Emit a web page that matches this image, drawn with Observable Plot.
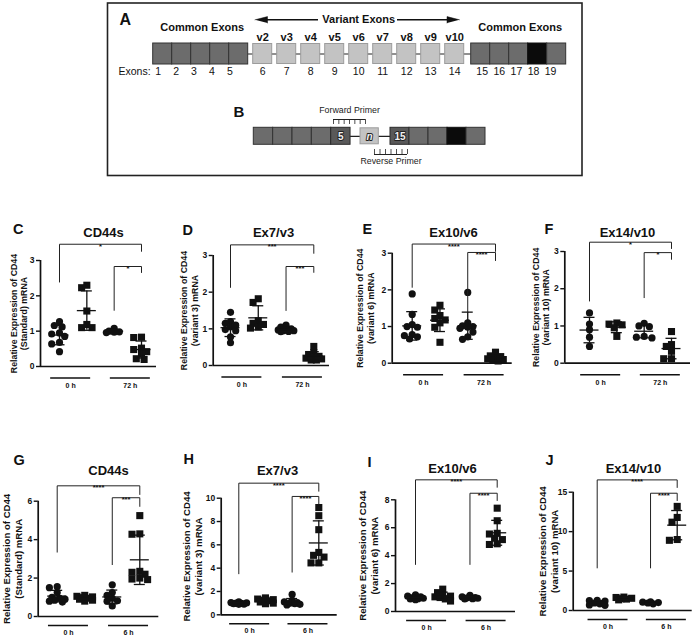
<!DOCTYPE html>
<html><head><meta charset="utf-8">
<script src="https://cdn.jsdelivr.net/npm/d3@7"></script>
<script src="https://cdn.jsdelivr.net/npm/@observablehq/plot@0.6"></script>
<style>
body{margin:0;background:#fff;}
#fig{position:relative;width:697px;height:637px;overflow:hidden;background:#fff;}
#fig > div{position:absolute;}
#fig svg{background:transparent !important;}
</style></head><body><div id="fig"></div>
<script>
// ---------- Panel A / B schematic data ----------
const commonLeftExons = ["1","2","3","4","5"];
const variantExons = ["6","7","8","9","10","11","12","13","14"];
const variantNames = ["v2","v3","v4","v5","v6","v7","v8","v9","v10"];
const commonRightExons = ["15","16","17","18","19"];
const blackExon = "18";
const primerLabels = ["Forward Primer","Reverse Primer"];
const bLeftLabels = ["","","","","5"];
const bMiddleLabel = "n";
const bRightLabels = ["15","","","",""];

// ---------- Scatter panels data (columns: 0h ctrl, 0h treat, late ctrl, late treat) ----------
const panelLetters = ["C","D","E","F","G","H","I","J"];
const panelTitles = ["CD44s","Ex7/v3","Ex10/v6","Ex14/v10","CD44s","Ex7/v3","Ex10/v6","Ex14/v10"];
const yLabelLine1 = "Relative Expression of CD44";
const yLabelLine2 = ["(Standard) mRNA","(variant 3) mRNA","(variant 6) mRNA","(variant 10) mRNA","(Standard) mRNA","(variant 3) mRNA","(variant 6) mRNA","(variant 10) mRNA"];
const groupsTop = ["0 h","72 h"];
const groupsBottom = ["0 h","6 h"];
const ticksC = [0,1,2,3], ticksD = [0,1,2,3], ticksE = [0,1,2,3], ticksF = [0,1,2,3];
const ticksG = [0,2,4,6], ticksH = [0,2,4,6,8,10], ticksI = [0,2,4,6,8], ticksJ = [0,5,10,15];

const valuesC = [[1.27,1.16,1.12,0.95,0.92,0.85,0.68,0.64,0.42],[2.3,2.23,1.57,1.19,1.1,1.1],[1.08,1.0,0.98,0.97,0.96],[0.83,0.82,0.52,0.48,0.42,0.35,0.22,0.2]];
const valuesD = [[1.45,1.2,1.15,1.1,1.05,0.98,0.95,0.78,0.62],[1.82,1.72,1.22,1.15,1.12,1.05,1.02],[1.1,1.05,1.0,0.98,0.97,0.95,0.95,0.93,0.92],[0.52,0.35,0.3,0.25,0.22,0.2,0.18,0.15,0.15]];
const valuesE = [[1.89,1.33,1.05,1.0,0.98,0.78,0.75,0.72,0.66],[1.58,1.45,1.3,1.22,1.18,1.1,0.98,0.57],[1.93,1.1,1.02,1.0,0.98,0.95,0.85,0.72,0.65],[0.3,0.2,0.18,0.15,0.12,0.1,0.08,0.06]];
const valuesF = [[1.35,1.05,0.9,0.7,0.45],[1.08,1.05,1.03,0.95,0.72],[1.07,1.0,0.98,0.72,0.7,0.68],[0.85,0.5,0.45,0.32,0.12,0.12]];
const valuesG = [[1.55,1.5,1.25,1.0,0.95,0.9,0.85,0.8,0.75],[1.1,1.05,1.02,0.98,0.95,0.9,0.85,0.8],[1.65,1.25,1.1,0.95,0.82,0.8,0.55],[5.25,4.3,4.28,2.35,2.3,2.2,2.0,1.95,1.92]];
const valuesH = [[1.1,1.05,1.02,1.0,0.98,0.95,0.92,0.9],[1.45,1.35,1.3,1.25,1.2,1.1,1.0,0.95],[1.75,1.25,1.1,1.05,1.0,0.95,0.9,0.85],[9.2,8.5,7.3,5.35,5.1,4.95,4.45,4.45]];
const valuesI = [[1.2,1.1,1.05,1.0,0.95,0.92,0.9,0.85],[1.6,1.35,1.2,1.1,1.05,1.0,0.9,0.75],[1.15,1.05,1.0,0.98,0.95,0.92,0.9],[7.4,6.5,5.6,5.55,5.25,5.15,4.85,4.8]];
const valuesJ = [[1.3,1.25,1.2,0.95,0.85,0.7,0.65],[1.7,1.65,1.55,1.5,1.45,1.35],[1.1,1.05,1.0,0.95,0.85],[13.2,11.8,11.2,9.0,8.9]];

// significance brackets: from column, to column, top value, left-leg end, right-leg end, label
const bracketsC = [{from:0,to:3,top:3.46,left:2.39,right:3.26,label:"*"},{from:2,to:3,top:2.83,left:1.59,right:2.66,label:"*"}];
const bracketsD = [{from:0,to:3,top:3.29,left:2.13,right:3.06,label:"***"},{from:2,to:3,top:2.70,left:1.50,right:2.54,label:"***"}];
const bracketsE = [{from:0,to:3,top:3.25,left:2.07,right:3.05,label:"****"},{from:2,to:3,top:3.02,left:1.39,right:2.80,label:"****"}];
const bracketsF = [{from:0,to:3,top:3.25,left:1.67,right:3.08,label:"*"},{from:2,to:3,top:2.97,left:1.76,right:2.79,label:"*"}];
const bracketsG = [{from:0,to:3,top:6.8,left:3.35,right:6.35,label:"****"},{from:2,to:3,top:6.18,left:2.7,right:5.73,label:"***"}];
const bracketsH = [{from:0,to:3,top:11.29,left:3.52,right:10.6,label:"****"},{from:2,to:3,top:10.15,left:3.66,right:9.52,label:"****"}];
const bracketsI = [{from:0,to:3,top:9.43,left:3.37,right:8.9,label:"****"},{from:2,to:3,top:8.47,left:3.37,right:7.95,label:"****"}];
const bracketsJ = [{from:0,to:3,top:16.56,left:5.4,right:15.6,label:"****"},{from:2,to:3,top:14.87,left:5.4,right:13.94,label:"****"}];

// ---------- helpers ----------
const FONT = "Liberation Sans, Arial, Helvetica, sans-serif";
const fig = document.getElementById("fig");
function place(node, left, top) {
  const d = document.createElement("div");
  d.style.left = left + "px"; d.style.top = top + "px";
  d.appendChild(node); fig.appendChild(d);
}

// ---------- schematic ----------
function schematic() {
  const W = 697, H = 180;
  const exW = 19, aTop = 43, aBot = 64;
  const aLeft = 152.7, vStart = 252.7, vStep = 24, aRight = 470.7;
  const bTop = 127.3, bBot = 144.3, bLeft = 253.3, bW = 19.35, bMid = 360, bMidW = 18.3, bRight = 390;
  const COL = {common: "#6c6c6c", variant: "#c3c3c3", black: "#0b0b0b", dark: "#595959"};
  const SCOL = {common: "#333", variant: "#9c9c9c", black: "#111", dark: "#2a2a2a"};
  const rects = [];
  commonLeftExons.forEach((e, i) => rects.push({x1: aLeft + i*exW, x2: aLeft + (i+1)*exW, y1: aTop, y2: aBot, k: e === blackExon ? "black" : "common"}));
  variantExons.forEach((e, i) => rects.push({x1: vStart + i*vStep, x2: vStart + i*vStep + exW, y1: aTop + 0.5, y2: aBot - 0.5, k: "variant"}));
  commonRightExons.forEach((e, i) => rects.push({x1: aRight + i*exW, x2: aRight + (i+1)*exW, y1: aTop, y2: aBot, k: e === blackExon ? "black" : "common"}));
  bLeftLabels.forEach((e, i) => rects.push({x1: bLeft + i*bW, x2: bLeft + (i+1)*bW, y1: bTop, y2: bBot, k: e ? "dark" : "common"}));
  rects.push({x1: bMid, x2: bMid + bMidW, y1: bTop + 0.5, y2: bBot - 0.5, k: "variant"});
  bRightLabels.forEach((e, i) => rects.push({x1: bRight + i*exW, x2: bRight + (i+1)*exW, y1: bTop, y2: bBot, k: i === 3 ? "black" : (e ? "dark" : "common")}));

  const aMidY = (aTop + aBot)/2, bMidY = (bTop + bBot)/2;
  const connectors = [
    {x1: aLeft + 5*exW, x2: aRight, y: aMidY},
    {x1: bLeft + 5*bW, x2: bRight, y: bMidY}
  ];
  const numLabels = [];
  commonLeftExons.forEach((e, i) => numLabels.push({x: aLeft + 5 + i*17.9, t: e}));
  variantExons.forEach((e, i) => numLabels.push({x: vStart + i*vStep + exW/2, t: e}));
  commonRightExons.forEach((e, i) => numLabels.push({x: aRight + 11 + i*17.1, t: e}));
  const vLabels = variantNames.map((v, i) => ({x: vStart + i*vStep + exW/2, t: v}));
  const groupTitles = [
    {x: aLeft + 2.5*exW + 1.5, t: "Common Exons"},
    {x: aRight + 2.5*exW + 1.5, t: "Common Exons"}
  ];
  const varMid = (vStart + vStart + 8*vStep + exW)/2;
  const arrowY = 19.3;
  const arrowLines = [{x1: 262, x2: 318, y: arrowY}, {x1: 397, x2: 452, y: arrowY}];
  const heads = [
    [{x: 254.5, y: arrowY}, {x: 267, y: arrowY - 3.2}, {x: 267, y: arrowY + 3.2}],
    [{x: 459, y: arrowY}, {x: 446.5, y: arrowY - 3.2}, {x: 446.5, y: arrowY + 3.2}]
  ].flatMap((h, i) => h.map(p => ({...p, i})));
  const bInBoxPlain = [
    {x: bLeft + 4.5*bW, t: bLeftLabels[4]},
    {x: bRight + 0.5*exW, t: bRightLabels[0]}
  ];
  const bInBoxItalic = [{x: bMid + bMidW/2, t: bMiddleLabel}];
  const fwd = {x1: 333, x2: 365, y: 119, y2: 124};
  const rev = {x1: 374, x2: 407, y: 154, y2: 149};
  const fwdTicks = d3.range(7).map(i => ({x: fwd.x1 + i*(fwd.x2 - fwd.x1)/6, y1: fwd.y, y2: fwd.y2}));
  const revTicks = d3.range(7).map(i => ({x: rev.x1 + i*(rev.x2 - rev.x1)/6, y1: rev.y, y2: rev.y2}));

  return Plot.plot({
    width: W, height: H, margin: 0,
    x: {type: "identity", axis: null}, y: {type: "identity", axis: null}, color: {type: "identity"},
    style: {fontFamily: FONT, background: "transparent", color: "#111"},
    marks: [
      Plot.rect([0], {x1: () => 107.5, x2: () => 582, y1: () => 3, y2: () => 175.5, fill: "none", stroke: "#222", strokeWidth: 1.6}),
      Plot.ruleY(connectors, {x1: "x1", x2: "x2", y: "y", stroke: "#222", strokeWidth: 1.2}),
      Plot.rect(rects, {x1: "x1", x2: "x2", y1: "y1", y2: "y2", fill: d => COL[d.k], stroke: d => SCOL[d.k], strokeWidth: 1}),
      Plot.text(["A"], {text: d => d, x: () => 119, y: () => 19, textAnchor: "start", fontSize: 16, fontWeight: "bold"}),
      Plot.text(["B"], {text: d => d, x: () => 233, y: () => 112, textAnchor: "start", fontSize: 15, fontWeight: "bold"}),
      Plot.text(groupTitles, {x: "x", y: () => 26.7, text: "t", fontSize: 11, fontWeight: "bold"}),
      Plot.text(["Variant Exons"], {text: d => d, x: () => varMid, y: () => arrowY, fontSize: 11, fontWeight: "bold"}),
      Plot.ruleY(arrowLines, {x1: "x1", x2: "x2", y: "y", stroke: "#111", strokeWidth: 1.5}),
      Plot.line(heads, {x: "x", y: "y", z: "i", fill: "#111", stroke: "#111", strokeWidth: 0.5}),
      Plot.text(vLabels, {x: "x", y: () => 36.5, text: "t", fontSize: 11, fontWeight: "bold"}),
      Plot.text(["Exons:"], {text: d => d, x: () => 118, y: () => 71, textAnchor: "start", fontSize: 10.5}),
      Plot.text(numLabels, {x: "x", y: () => 71, text: "t", fontSize: 10.5}),
      Plot.text(bInBoxPlain, {x: "x", y: () => bMidY, text: "t", fontSize: 10, fontWeight: "bold", fill: "#f2f2f2", stroke: "#222", strokeWidth: 1.8}),
      Plot.text(bInBoxItalic, {x: "x", y: () => bMidY, text: "t", fontStyle: "italic", fontSize: 10, fontWeight: "bold", fill: "#f2f2f2", stroke: "#222", strokeWidth: 1.8}),
      Plot.ruleY([fwd], {x1: "x1", x2: "x2", y: "y", stroke: "#222", strokeWidth: 1}),
      Plot.ruleX(fwdTicks, {x: "x", y1: "y1", y2: "y2", stroke: "#222", strokeWidth: 0.8}),
      Plot.ruleY([rev], {x1: "x1", x2: "x2", y: "y", stroke: "#222", strokeWidth: 1}),
      Plot.ruleX(revTicks, {x: "x", y1: "y1", y2: "y2", stroke: "#222", strokeWidth: 0.8}),
      Plot.text([primerLabels[0]], {text: d => d, x: () => (fwd.x1 + fwd.x2)/2, y: () => 110, fontSize: 8.8, fill: "#222"}),
      Plot.text([primerLabels[1]], {text: d => d, x: () => (rev.x1 + rev.x2)/2, y: () => 160.5, fontSize: 8.8, fill: "#222"})
    ]
  });
}

// ---------- scatter panel ----------
// GraphPad-like horizontal spreading of overlapping points, capped in width
function dodge(vals, col, pxX, pxY) {
  const placed = [], out = [];
  const order = vals.map((v, i) => i).sort((a, b) => vals[b] - vals[a]);
  const step = 2.6, minD = 5.5, maxK = 6;
  for (const i of order) {
    const y = vals[i]*pxY;
    let best = 0, bestD = -1;
    for (let k = 0; k <= maxK; k++) {
      const off = k === 0 ? 0 : (k % 2 ? -1 : 1)*Math.ceil(k/2)*step;
      const dmin = placed.length ? d3.min(placed, p => Math.hypot(p.x - off, p.y - y)) : Infinity;
      if (dmin >= minD) { best = off; bestD = dmin; break; }
      if (dmin > bestD) { bestD = dmin; best = off; }
    }
    placed.push({x: best, y});
    out.push({col, value: vals[i], x: col + best/pxX});
  }
  return out;
}

function panel(c) {
  const sp = (c.c4 - c.c1)/3;
  const xDomain = [-(c.c1 - c.x0)/sp, 3 + (c.x1 - c.c4)/sp];
  const yMax = c.ticks[c.ticks.length - 1];
  const pxY = (c.y0 - c.yTop)/yMax;
  const points = c.values.flatMap((vals, ci) => dodge(vals, ci, sp, pxY));
  const stats = c.values.map((vals, ci) => ({col: ci, mean: d3.mean(vals), sd: d3.deviation(vals)}));
  const meanHalf = 9.5/sp, capHalf = 5.5/sp, grpHalf = 20/sp;
  const bracketPts = c.brackets.flatMap((b, i) => [
    {i, x: b.from, y: b.left}, {i, x: b.from, y: b.top}, {i, x: b.to, y: b.top}, {i, x: b.to, y: b.right}
  ]);
  const groupRows = c.groups.map((g, gi) => ({label: g, mid: gi*2 + 0.5 + (gi === 0 ? -2.5 : 2.5)/sp}));
  const node = Plot.plot({
    width: c.w, height: c.h,
    marginLeft: c.x0 - c.left, marginRight: c.left + c.w - c.x1,
    marginTop: c.yTop - c.top, marginBottom: c.top + c.h - c.y0,
    x: {domain: xDomain, axis: null},
    y: {domain: [0, yMax]},
    style: {fontFamily: FONT, background: "transparent", color: "#111"},
    marks: [
      Plot.ruleY([0], {stroke: "#111", strokeWidth: 1.7}),
      Plot.ruleX([xDomain[0]], {y1: 0, y2: yMax, stroke: "#111", strokeWidth: 1.7}),
      Plot.axisY({ticks: c.ticks, tickFormat: d => String(d), tickSize: 4, tickPadding: 2, fontSize: 8.5, fontWeight: "bold", label: null, strokeWidth: 1.4}),
      Plot.dot(points.filter(d => d.col % 2 === 0), {x: "x", y: "value", r: 3.6, fill: "#111", stroke: "none"}),
      Plot.dot(points.filter(d => d.col % 2 === 1), {x: "x", y: "value", r: 4.0, symbol: "square", fill: "#111", stroke: "none"}),
      Plot.ruleX(stats, {x: "col", y1: d => d.mean - d.sd, y2: d => d.mean + d.sd, stroke: "#111", strokeWidth: 1.3}),
      Plot.ruleY(stats, {y: "mean", x1: d => d.col - meanHalf, x2: d => d.col + meanHalf, stroke: "#111", strokeWidth: 1.3}),
      Plot.ruleY(stats, {y: d => d.mean + d.sd, x1: d => d.col - capHalf, x2: d => d.col + capHalf, stroke: "#111", strokeWidth: 1.3}),
      Plot.ruleY(stats, {y: d => d.mean - d.sd, x1: d => d.col - capHalf, x2: d => d.col + capHalf, stroke: "#111", strokeWidth: 1.3}),
      Plot.line(bracketPts, {x: "x", y: "y", z: "i", stroke: "#222", strokeWidth: 1}),
      Plot.text(c.brackets, {x: d => (d.from + d.to)/2, y: "top", text: "label", lineAnchor: "bottom", dy: 4.5, fontSize: 7.5, fontWeight: "bold"}),
      Plot.ruleY(groupRows, {y: () => 0, x1: d => d.mid - grpHalf, x2: d => d.mid + grpHalf, dy: c.lineDy, stroke: "#111", strokeWidth: 1.6}),
      Plot.text(groupRows, {x: "mid", y: () => 0, text: "label", dy: c.textDy, fontSize: 7, fontWeight: "bold"}),
      Plot.text([c.letter], {text: d => d, frameAnchor: "top-left", dx: c.letterX - c.x0, dy: c.letterY - c.yTop, textAnchor: "start", fontSize: 14.5, fontWeight: "bold"}),
      Plot.text([c.title], {text: d => d, frameAnchor: "top-left", dx: c.titleX - c.x0, dy: c.titleY - c.yTop, textAnchor: "middle", fontSize: 13, fontWeight: "bold"}),
      Plot.text([yLabelLine1 + "\n" + c.ylab2], {text: d => d, frameAnchor: "left", textAnchor: "middle", rotate: -90, dx: -c.ylabDx, fontSize: c.ylabFont, lineHeight: c.ylabLH, fontWeight: "bold"})
    ]
  });
  place(node, c.left, c.top);
}

place(schematic(), 0, 0);

const rowTop = {top: 205, h: 187, lineDy: 11.5, textDy: 19.5, ylabFont: 8.8, ylabLH: 1.2, groups: groupsTop};
const rowBot = {top: 435, h: 202, lineDy: 9, textDy: 16, ylabFont: 9.6, ylabLH: 1.25, groups: groupsBottom};
const cfgs = [
  {...rowTop, left: 0,   w: 170, x0: 40,    x1: 156,   c1: 59,    c4: 141,   yTop: 260,   y0: 366,   ticks: ticksC, values: valuesC, brackets: bracketsC, letterX: 12.5, letterY: 223.5, titleX: 103, titleY: 227,   ylabDx: 22},
  {...rowTop, left: 170, w: 175, x0: 212.7, x1: 329,   c1: 230,   c4: 313.3, yTop: 255,   y0: 365,   ticks: ticksD, values: valuesD, brackets: bracketsD, letterX: 182,  letterY: 224,   titleX: 273, titleY: 227.5, ylabDx: 24},
  {...rowTop, left: 345, w: 172, x0: 391.7, x1: 511.7, c1: 411.7, c4: 495,   yTop: 252.7, y0: 362.7, ticks: ticksE, values: valuesE, brackets: bracketsE, letterX: 362,  letterY: 223,   titleX: 453, titleY: 227.5, ylabDx: 27},
  {...rowTop, left: 517, w: 180, x0: 564.3, x1: 690,   c1: 589,   c4: 671,   yTop: 251,   y0: 362.7, ticks: ticksF, values: valuesF, brackets: bracketsF, letterX: 544,  letterY: 223,   titleX: 627, titleY: 227.5, ylabDx: 24},
  {...rowBot, left: 0,   w: 170, x0: 37.7,  x1: 158.3, c1: 56.7,  c4: 139.3, yTop: 500.7, y0: 616,   ticks: ticksG, values: valuesG, brackets: bracketsG, letterX: 13,   letterY: 454.5, titleX: 108, titleY: 465,   ylabDx: 26},
  {...rowBot, left: 170, w: 175, x0: 220.7, x1: 336.7, c1: 238.3, c4: 318.3, yTop: 497.7, y0: 614.3, ticks: ticksH, values: valuesH, brackets: bracketsH, letterX: 183,  letterY: 453.5, titleX: 277, titleY: 465,   ylabDx: 29},
  {...rowBot, left: 345, w: 172, x0: 395,   x1: 515,   c1: 415,   c4: 496.7, yTop: 499.3, y0: 611,   ticks: ticksI, values: valuesI, brackets: bracketsI, letterX: 367,  letterY: 456,   titleX: 452, titleY: 463,   ylabDx: 27},
  {...rowBot, left: 517, w: 180, x0: 572.7, x1: 691.7, c1: 596.7, c4: 676.7, yTop: 491.7, y0: 610,   ticks: ticksJ, values: valuesJ, brackets: bracketsJ, letterX: 545,  letterY: 454.5, titleX: 633, titleY: 463,   ylabDx: 25}
];
cfgs.forEach((c, i) => panel({...c, letter: panelLetters[i], title: panelTitles[i], ylab2: yLabelLine2[i]}));
</script></body></html>
